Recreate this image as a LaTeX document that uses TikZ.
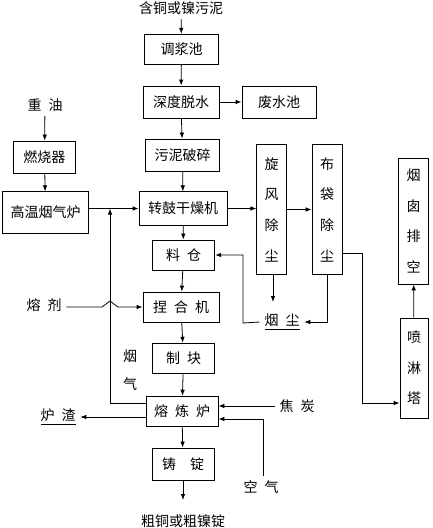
\documentclass[tikz,border=0pt]{standalone}
\usepackage{fontspec}
\setmainfont{Noto Sans CJK SC}
\usetikzlibrary{arrows.meta}
\newcommand{\zsp}{\hspace{.5em}}

\begin{document}
\begin{tikzpicture}[x=0.75pt,y=-0.75pt,line width=0.6pt,
	>={Latex[length=4.5pt,width=3.4pt]},
	every node/.style={font=\fontsize{10.5}{23}\selectfont},
	box/.style={shape=rectangle,draw=black,inner sep=0pt,align=center}]
	
	\useasboundingbox (0,0) rectangle (432,528);
	
	% main column
	\node (feed) at (181,8) {含铜或镍污泥};
	\node[box,minimum width=56pt,minimum height=23pt] (tj) at (181.5,49.5) {调浆池};
	\node[box,minimum width=57pt,minimum height=24pt] (sd) at (181,102) {深度脱水};
	\node[box,minimum width=55.5pt,minimum height=24pt] (fs) at (279,102) {废水池};
	\node[box,minimum width=55pt,minimum height=24pt] (wn) at (182.5,155) {污泥破碎};
	\node[box,minimum width=66pt,minimum height=25pt] (zg) at (183,208.5) {转鼓干燥机};
	\node[box,minimum width=47pt,minimum height=22.5pt] (lc) at (183.5,255) {料\zsp 仓};
	\node[box,minimum width=57pt,minimum height=22.5pt] (nh) at (181,307) {捏\zsp 合\zsp 机};
	\node[box,minimum width=47pt,minimum height=23pt] (zk) at (183.5,358.5) {制\zsp 块};
	\node[box,minimum width=54pt,minimum height=23pt] (rl) at (182,411.5) {熔\zsp 炼\zsp 炉};
	\node[box,minimum width=46.5pt,minimum height=24pt] (zd) at (183,464) {铸\quad 锭};
	\node (out) at (183,521) {粗铜或粗镍锭};
	
	% burner side
	\node (zy) at (45,105) {重\zsp 油};
	\node[box,minimum width=46pt,minimum height=24pt] (rs) at (44.5,157) {燃烧器};
	\node[box,minimum width=65pt,minimum height=31pt] (gw) at (45.5,212.5) {高温烟气炉};
	
	% dust removal
	\node[box,minimum width=22pt,minimum height=98pt] (xf) at (271.5,209.5) {旋\\风\\除\\尘};
	\node[box,minimum width=22.5pt,minimum height=98pt] (bd) at (327,209.5) {布\\袋\\除\\尘};
	\node[box,minimum width=22pt,minimum height=94.5pt] (yc) at (413.5,221) {烟\\囱\\排\\空};
	\node[box,minimum width=21pt,minimum height=75pt] (pl) at (414,368) {喷\\淋\\塔};
	\node (dust) at (282,322) {\underline{烟\zsp 尘}};
	
	% other inputs and outputs
	\node (rj) at (44,305) {熔\zsp 剂};
	\node[align=center,font=\fontsize{10.5}{21}\selectfont] (yq) at (130,370) {烟\\气};
	\node (lz) at (58,417) {\underline{炉\zsp 渣}};
	\node (jt) at (297,406) {焦\zsp 炭};
	\node (kq) at (261,487) {空\zsp 气};
	
	\coordinate (lp) at (110,403);
	\coordinate (xd) at (273,302);
	\coordinate (dj) at (243,323);
	\coordinate (b1) at (362,253);
	\coordinate (b2) at (362,403);
	\coordinate (k1) at (263,419);
	\coordinate (zo) at (183,500);
	
	\path[->] (feed) edge (tj);
	\path[->] (tj) edge (sd);
	\path[->] (sd) edge (fs);
	\path[->] (sd) edge (wn);
	\path[->] (wn) edge (zg);
	\path[->] (zg) edge (lc);
	\path[->] (lc) edge (nh);
	\path[->] (nh) edge (zk);
	\path[->] (zk) edge (rl);
	\path[->] (rl) edge (zd);
	\path[->] (zd) edge (zo);
	
	\path[->] (zy) edge (rs);
	\path[->] (rs) edge (gw);
	\draw[->] (gw.east |- zg.west) -- (zg.west);
	\draw[->] (zg.east) -- (zg.east -| xf.west);
	\path[->] (xf) edge (bd);
	
	\draw[->] (xf.south -| xd) -- (xd);
	\draw[->] (bd.south) |- (dust.east);
	\draw[->] (dust.west) -- (dj) |- (lc.east);
	\draw[->] (bd.east |- b1) -- (b1) -- (b2) -- (b2 -| pl.west);
	\path[->] (pl) edge (yc);
	
	% flue gas loop, flux line hops over it
	\draw[->] (rl.west |- lp) -- (lp) -- (lp |- zg.west);
	\draw[->] (rj.east |- nh.west) -- ([xshift=-6pt]lp |- nh.west) -- ([yshift=4.5pt]lp |- nh.west)
		-- ([xshift=6pt]lp |- nh.west) -- (nh.west);
	\draw[->] (rl.west |- lz.east) -- (lz.east);
	\draw[->] (jt.west) -- (jt.west -| rl.east);
	\draw[->] (kq.north -| k1) -- (k1) -- (k1 -| rl.east);
	
\end{tikzpicture}
\end{document}
